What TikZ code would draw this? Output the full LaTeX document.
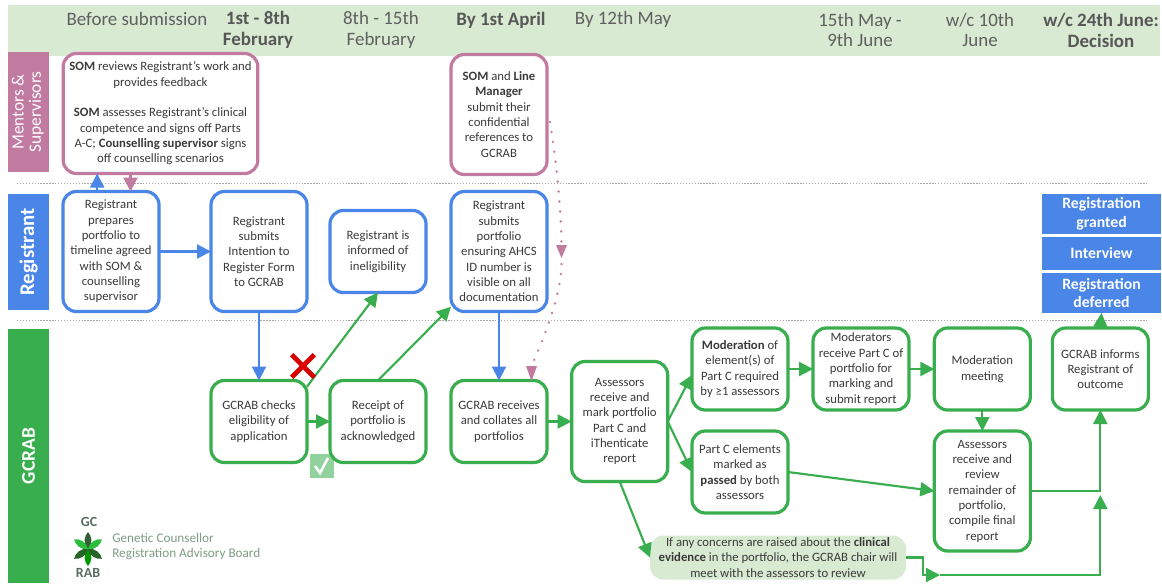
\documentclass[tikz,border=0pt]{standalone}
\usepackage{fontspec}
\setmainfont{Carlito}
\usetikzlibrary{arrows.meta,positioning}
\definecolor{bandhead}{HTML}{D9EAD3}
\definecolor{mentorcol}{HTML}{C27BA0}
\definecolor{regcol}{HTML}{4A86E8}
\definecolor{gcrabcol}{HTML}{39AE4E}
\definecolor{textcol}{HTML}{3A3A3A}
\definecolor{headcol}{HTML}{5F5F5F}
\definecolor{logotxt}{HTML}{7F9C86}
\tikzset{
    %Define standard arrow tip
    >={Triangle[length=10.5pt,width=10.5pt]},
    %Define style for boxes
    flowbox/.style={
           rectangle,
           rounded corners=10pt,
           fill=white,
           line width=2.4pt,
           minimum width=72pt,
           align=center,
           inner sep=0pt,
           outer sep=0pt,
           text=textcol,
           execute at begin node={\rule{0pt}{9.2pt}},
           font=\fontsize{9.55}{11.5}\selectfont},
    tallbox/.style={flowbox, minimum height=90pt},
    shortbox/.style={flowbox, minimum height=61.5pt},
    pinkbox/.style={draw=mentorcol},
    bluebox/.style={draw=regcol},
    greenbox/.style={draw=gcrabcol},
    % Swimlanes and header
    lane/.style={
           rectangle,
           inner sep=0pt,
           outer sep=0pt,
           minimum width=30.75pt,
           text=white,
           align=center},
    headtext/.style={
           align=center,
           text=headcol,
           font=\fontsize{14.2}{15.7}\selectfont},
    headbold/.style={headtext, text=textcol!85, font=\fontsize{14.2}{15.7}\selectfont\bfseries},
    outcome/.style={
           rectangle,
           fill=regcol,
           inner sep=0pt,
           outer sep=0pt,
           minimum width=89pt,
           align=center,
           text=white,
           font=\fontsize{11.8}{14}\selectfont\bfseries},
    sepline/.style={gray!70, line width=0.6pt, dash pattern=on 1pt off 1.2pt},
    % Define arrow style
    bluearrow/.style={->, regcol, line width=1.6pt},
    greenarrow/.style={->, gcrabcol, line width=1.6pt},
    pinkarrow/.style={->, mentorcol, line width=1.6pt},
    dotline/.style={mentorcol, line width=1.9pt, line cap=round, dash pattern=on 0.1pt off 7.4pt},
}

\begin{document}
\begin{tikzpicture}[x=0.75pt,y=-0.75pt]
  \useasboundingbox[fill=white] (0,0) rectangle (1162,583);
  % bands
  \fill[bandhead] (8,5) rectangle (1160,56);
  \node[lane, fill=mentorcol, minimum height=90pt, font=\fontsize{13}{14}\selectfont] (lanemen) at (28.5,112) {\rotatebox{90}{\begin{tabular}{@{}c@{}}Mentors \&\\[-1pt] Supervisors\end{tabular}}};
  \node[lane, fill=regcol, minimum height=87pt, font=\fontsize{15.6}{17}\selectfont\bfseries] (lanereg) at (28.5,252) {\rotatebox{90}{Registrant}};
  \node[lane, fill=gcrabcol, minimum height=190.5pt, font=\fontsize{14.5}{17}\selectfont\bfseries] (lanegc) at (28.5,456) {\rotatebox{90}{GCRAB}};
  \coordinate (sepa) at (17,183);
  \coordinate (sepb) at (17,320);
  \draw[sepline] (sepa) -- ++(1130,0);
  \draw[sepline] (sepb) -- ++(1130,0);

  % header
  \node[headtext] (hbefore) at (137,19) {Before submission};
  \node[headbold] (hfirst)  at (258,30) {1st - 8th\\February};
  \node[headtext] (heighth) at (381,30) {8th - 15th\\February};
  \node[headbold] (happril) at (501,20) {By 1st April};
  \node[headtext] (hmay)    at (623,19) {By 12th May};
  \node[headtext] (hjune)   at (860,30) {15th May -\\9th June};
  \node[headtext] (hweek)   at (980,30) {w/c 10th\\June};
  \node[headbold] (hdecide) at (1101,30) {w/c 24th June:\\Decision};

  % tick goes behind the receipt box
  \node[rectangle, fill=gcrabcol!55, minimum size=18.5pt, inner sep=0pt] (tickmk) at (322,466) {};
  \draw[white, line width=1.9pt] (tickmk.center) ++(-7,0) -- ++(5,7) -- ++(8,-15);

  % Registrant row
  \node[tallbox, bluebox] (regprep) at (111,251.5) {Registrant\\prepares\\portfolio to\\timeline agreed\\with SOM \&\\counselling\\supervisor};
  \node[tallbox, bluebox, right=39pt of regprep] (regitr) {Registrant\\submits\\Intention to\\Register Form\\to GCRAB};
  \node[shortbox, bluebox, right=17.25pt of regitr] (reginf) {Registrant is\\informed of\\ineligibility};
  \node[tallbox, bluebox, right=18.75pt of reginf] (regsub) {Registrant\\submits\\portfolio\\ensuring AHCS\\ID number is\\visible on all\\documentation};

  % Mentors row
  \node[tallbox, pinkbox, minimum width=146pt] (somwork) at (160.5,113.5) {\textbf{SOM} reviews Registrant's work and\\provides feedback\\[11.5pt]\textbf{SOM} assesses Registrant’s clinical\\competence and signs off Parts\\A-C; \textbf{Counselling supervisor} signs\\off counselling scenarios};
  \node[tallbox, pinkbox, above=12.75pt of regsub] (somref) {\textbf{SOM} and \textbf{Line}\\\textbf{Manager}\\submit their\\confidential\\references to\\GCRAB};

  % GCRAB row
  \node[shortbox, greenbox, below=51.75pt of regitr] (gcchk) {GCRAB checks\\eligibility of\\application};
  \node[shortbox, greenbox, right=17.25pt of gcchk] (gcrcpt) {Receipt of\\portfolio is\\acknowledged};
  \node[shortbox, greenbox, right=18.75pt of gcrcpt] (gcrecv) {GCRAB receives\\and collates all\\portfolios};
  \node[tallbox, greenbox, right=18.5pt of gcrecv] (asrmark) {Assessors\\receive and\\mark portfolio\\Part C and\\iThenticate\\report};
  \node[shortbox, greenbox] (modn) at (740,369) {\textbf{Moderation} of\\element(s) of\\Part C required\\by ≥1 assessors};
  \node[shortbox, greenbox, right=18.75pt of modn] (modr) {Moderators\\receive Part C of\\portfolio for\\marking and\\submit report};
  \node[shortbox, greenbox, right=19pt of modr] (modmeet) {Moderation\\meeting};
  \node[shortbox, greenbox, right=16.5pt of modmeet] (inform) {GCRAB informs\\Registrant of\\outcome};
  \node[shortbox, greenbox, below=15.75pt of modn] (passed) {Part C elements\\marked as\\\textbf{passed} by both\\assessors};
  \node[tallbox, greenbox, below=15.75pt of modmeet] (asrrev) {Assessors\\receive and\\review\\remainder of\\portfolio,\\compile final\\report};
  \node[flowbox, fill=bandhead, minimum width=192pt, minimum height=33pt, draw=none] (concern) at (778,557.5) {If any concerns are raised about the \textbf{clinical}\\\textbf{evidence} in the portfolio, the GCRAB chair will\\meet with the assessors to review};

  % outcomes
  \node[outcome, minimum height=30pt] (oc1) at (1101.5,214) {Registration\\granted};
  \node[outcome, minimum height=25pt] (oc2) at (1101.5,253.5) {Interview};
  \node[outcome, minimum height=30pt] (oc3) at (1101.5,293) {Registration\\deferred};

  % arrows
  \draw[bluearrow] (regprep.103) -- (regprep.103 |- somwork.south);
  \draw[pinkarrow] (somwork.south -| regprep.72) -- (regprep.72);
  \path (regprep.east) edge[bluearrow] (regitr.west);
  \path (regitr.south) edge[bluearrow] (gcchk.north);
  \path (regsub.south) edge[bluearrow] (gcrecv.north);
  \path (gcchk.east) edge[greenarrow] (gcrcpt.west);
  \path (gcchk.36) edge[greenarrow] (reginf.south);
  \path (gcrcpt.north) edge[greenarrow] (regsub.229);
  \path (gcrecv.east) edge[greenarrow] (asrmark.west);
  \path (asrmark.east) edge[greenarrow] (modn.187);
  \path (asrmark.east) edge[greenarrow] (passed.west);
  \path (modn.east) edge[greenarrow] (modr.west);
  \path (modr.east) edge[greenarrow] (modmeet.west);
  \path (modmeet.south) edge[greenarrow] (asrrev.north);
  \path (passed.east) edge[greenarrow] (asrrev.west);
  \path (inform.north) edge[greenarrow] (oc3.south);
  \path (asrmark.south) edge[greenarrow] (concern.west);
  \coordinate (merge) at (940,575);
  \draw[greenarrow] (concern.east) -- ++(17,0) |- (merge);
  \draw[greenarrow] (merge) -| ([yshift=-3pt]inform.south |- asrrev.east);
  \draw[greenarrow] (asrrev.east) -| (inform.south);

  % dotted reference route
  \coordinate (dotfrom) at (550,122);
  \coordinate (dotmid) at (561.5,258);
  \coordinate (dotto) at (531.5,381);
  \draw[dotline] (dotfrom) .. controls (556,160) and (561,205) .. ([yshift=10pt]dotmid);
  \draw[dotline] (dotmid) ++(0,6) .. controls (561,295) and (545,335) .. ([yshift=11pt]dotto);
  \fill[mentorcol] (dotmid) -- ++(-5.5,-13) -- ++(11,0) -- cycle;
  \fill[mentorcol] (dotto) -- ++(-5.5,-15) -- ++(11,0) -- cycle;

  % red cross
  \node[inner sep=0pt, minimum size=16.5pt] (crossmk) at (303,366) {};
  \draw[red!85!black, line width=3.6pt] (crossmk.north west) -- (crossmk.south east);
  \draw[red!85!black, line width=3.6pt] (crossmk.north east) -- (crossmk.south west);

  % logo
  \foreach \ang/\leaf in {90/black!70!green!60!gray, 270/green!60!black, 35/gcrabcol!80!green, 145/gcrabcol!80!green, 325/black!65!green!70!gray, 215/black!65!green!70!gray}
    \fill[\leaf, shift={(88,549)}, rotate=\ang] (0,0) .. controls (5,-5) and (13,-4) .. (17,0) .. controls (13,4) and (5,5) .. (0,0);
  \node[text=logotxt!70!black, font=\fontsize{10.5}{11}\selectfont\bfseries] (logogc) at (89,522) {GC};
  \node[text=logotxt!70!black, font=\fontsize{10.5}{11}\selectfont\bfseries] (lograb) at (88,573) {RAB};
  \node[anchor=west, inner sep=0pt, align=left, text=logotxt, font=\fontsize{9.9}{11.3}\selectfont] (logotext) at (112,547) {Genetic Counsellor\\Registration Advisory Board};
\end{tikzpicture}
\end{document}
